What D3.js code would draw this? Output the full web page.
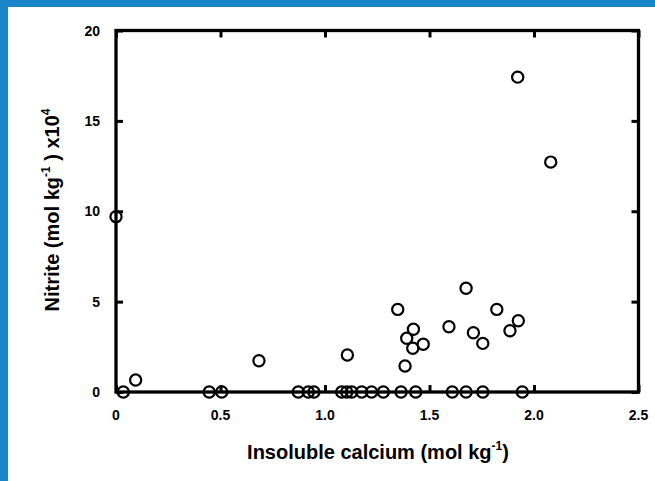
<!DOCTYPE html>
<html><head><meta charset="utf-8">
<script src="https://cdn.jsdelivr.net/npm/d3@7"></script>
<style>html,body{margin:0;padding:0;background:#fff;}svg{display:block;}</style>
</head><body>
<script>
const calcium = [0.00,0.035,0.094,0.446,0.506,0.684,0.872,0.920,0.947,1.080,1.104,1.128,1.107,1.176,1.223,1.279,1.364,1.348,1.383,1.391,1.420,1.423,1.434,1.470,1.593,1.609,1.675,1.675,1.710,1.755,1.755,1.822,1.885,1.925,1.922,1.944,2.080];
const nitrite = [9.70,0,0.66,0,0,1.73,0,0,0,0,0,0,2.05,0,0,0,0,4.57,1.44,2.97,2.42,3.47,0,2.64,3.61,0,5.74,0,3.28,2.69,0,4.57,3.39,3.94,17.42,0,12.72];
const xTicks = [0,0.5,1.0,1.5,2.0,2.5];
const xTickLabels = ["0","0.5","1.0","1.5","2.0","2.5"];
const yTicks = [0,5,10,15,20];
const yTickLabels = ["0","5","10","15","20"];

const W=655,H=481;
const L=116,R=638.5,T=30.5,B=392;
const svg=d3.select("body").append("svg").attr("width",W).attr("height",H);
svg.append("rect").attr("width",W).attr("height",H).attr("fill","#fff");
svg.append("rect").attr("x",0).attr("y",0).attr("width",W).attr("height",7).attr("fill","#1a85c6");
svg.append("rect").attr("x",0).attr("y",0).attr("width",8).attr("height",H).attr("fill","#1a85c6");

const x=d3.scaleLinear().domain([0,2.5]).range([L,R]);
const y=d3.scaleLinear().domain([0,20]).range([B,T]);
const font="Liberation Sans, Arial, sans-serif";

// points
svg.append("g").selectAll("circle").data(calcium.map((c,i)=>[c,nitrite[i]])).join("circle")
  .attr("cx",d=>x(d[0])).attr("cy",d=>y(d[1])).attr("r",5.6)
  .attr("fill","none").attr("stroke","#000").attr("stroke-width",2.2);

// axes (ticks inward, mirrored)
const tl=7;
const ax=d3.axisBottom(x).tickValues(xTicks).tickSize(-tl).tickFormat("");
const axTop=d3.axisTop(x).tickValues(xTicks).tickSize(-tl).tickFormat("");
const ay=d3.axisLeft(y).tickValues(yTicks).tickSize(-tl).tickFormat("");
const ayR=d3.axisRight(y).tickValues(yTicks).tickSize(-tl).tickFormat("");
function style(g){g.select(".domain").remove();g.selectAll("line").attr("stroke","#000").attr("stroke-width",3);}
svg.append("g").attr("transform",`translate(0,${B})`).call(ax).call(style);
svg.append("g").attr("transform",`translate(0,${T})`).call(axTop).call(style);
svg.append("g").attr("transform",`translate(${L},0)`).call(ay).call(style);
svg.append("g").attr("transform",`translate(${R},0)`).call(ayR).call(style);
svg.append("rect").attr("x",L).attr("y",T).attr("width",R-L).attr("height",B-T)
  .attr("fill","none").attr("stroke","#000").attr("stroke-width",3.3);

// tick labels
svg.append("g").selectAll("text").data(xTicks).join("text")
  .attr("x",d=>x(d)).attr("y",419.5).attr("text-anchor","middle")
  .attr("font-family",font).attr("font-size",14).attr("font-weight","bold")
  .text((d,i)=>xTickLabels[i]);
svg.append("g").selectAll("text").data(yTicks).join("text")
  .attr("x",100).attr("y",d=>y(d)+5).attr("text-anchor","end")
  .attr("font-family",font).attr("font-size",14).attr("font-weight","bold")
  .text((d,i)=>yTickLabels[i]);

// x title
const xt=svg.append("text").attr("x",378).attr("y",459).attr("text-anchor","middle")
  .attr("font-family",font).attr("font-size",20).attr("font-weight","bold");
xt.append("tspan").text("Insoluble calcium (mol kg");
xt.append("tspan").attr("font-size",12).attr("dy",-9).text("-1");
xt.append("tspan").attr("dy",9).text(")");

// y title
const yt=svg.append("text").attr("transform","translate(59,210) rotate(-90)").attr("text-anchor","middle")
  .attr("font-family",font).attr("font-size",20).attr("font-weight","bold");
yt.append("tspan").text("Nitrite (mol kg");
yt.append("tspan").attr("font-size",12).attr("dy",-9).text("-1");
yt.append("tspan").attr("dy",9).text(" ) x10");
yt.append("tspan").attr("font-size",12).attr("dy",-9).text("4");
</script>
</body></html>
